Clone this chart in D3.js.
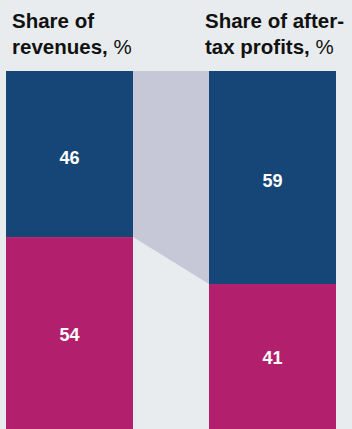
<!DOCTYPE html>
<html>
<head>
<meta charset="utf-8">
<script src="https://cdn.jsdelivr.net/npm/d3@7"></script>
<style>
  html, body { margin: 0; padding: 0; background: #e8ecef; }
  svg { display: block; }
  text { font-family: "Liberation Sans", Arial, Helvetica, sans-serif; }
</style>
</head>
<body>
<svg id="chart" width="352" height="429"></svg>
<script>
// Two stacked 100% bars: revenue share vs after-tax profit share
const categories = ["revenues", "profits"];
const titleLines = [
  [["Share of", true]],
  [["revenues,", true], [" %", false]]
];
const titleLinesRight = [
  [["Share of after-", true]],
  [["tax profits,", true], [" %", false]]
];
const topSeries = [46, 59];     // blue segment
const bottomSeries = [54, 41];  // magenta segment

const colors = { top: "#154677", bottom: "#b21f6c", link: "#c6c8d7", text: "#111111" };

const svg = d3.select("#chart");

const x = d3.scaleBand().domain(categories).range([6, 336]).paddingInner(0.3744).paddingOuter(0);
const y = d3.scaleLinear().domain([0, 100]).range([71, 432]);

// connector between the two top segments
const xL = x("revenues") + x.bandwidth();
const xR = x("profits");
svg.append("path")
  .attr("d", d3.line()([
    [xL, y(0)], [xR, y(0)], [xR, y(topSeries[1])], [xL, y(topSeries[0])]
  ]))
  .attr("fill", colors.link);

// bars
categories.forEach((c, i) => {
  const segs = [
    { y0: 0, y1: topSeries[i], v: topSeries[i], color: colors.top },
    { y0: topSeries[i], y1: topSeries[i] + bottomSeries[i], v: bottomSeries[i], color: colors.bottom }
  ];
  const g = svg.append("g");
  g.selectAll("rect").data(segs).join("rect")
    .attr("x", x(c))
    .attr("width", x.bandwidth())
    .attr("y", d => y(d.y0))
    .attr("height", d => y(d.y1) - y(d.y0))
    .attr("fill", d => d.color);
  g.selectAll("text").data(segs).join("text")
    .attr("x", x(c) + x.bandwidth() / 2)
    .attr("y", (d, j) => (y(d.y0) + y(d.y1)) / 2 + (j === 0 ? 3 : 0))
    .attr("dy", "0.36em")
    .attr("text-anchor", "middle")
    .attr("fill", "#ffffff")
    .attr("font-weight", "bold")
    .attr("font-size", 18)
    .text(d => d.v);
});

// column titles
function drawTitle(lines, x0) {
  lines.forEach((parts, li) => {
    const t = svg.append("text")
      .attr("x", x0)
      .attr("y", 28 + li * 26)
      .attr("font-size", 20.5)
      .attr("fill", colors.text);
    parts.forEach(([s, bold]) => {
      t.append("tspan").attr("font-weight", bold ? "bold" : "normal").text(s);
    });
  });
}
drawTitle(titleLines, 12);
drawTitle(titleLinesRight, 205);
</script>
</body>
</html>
